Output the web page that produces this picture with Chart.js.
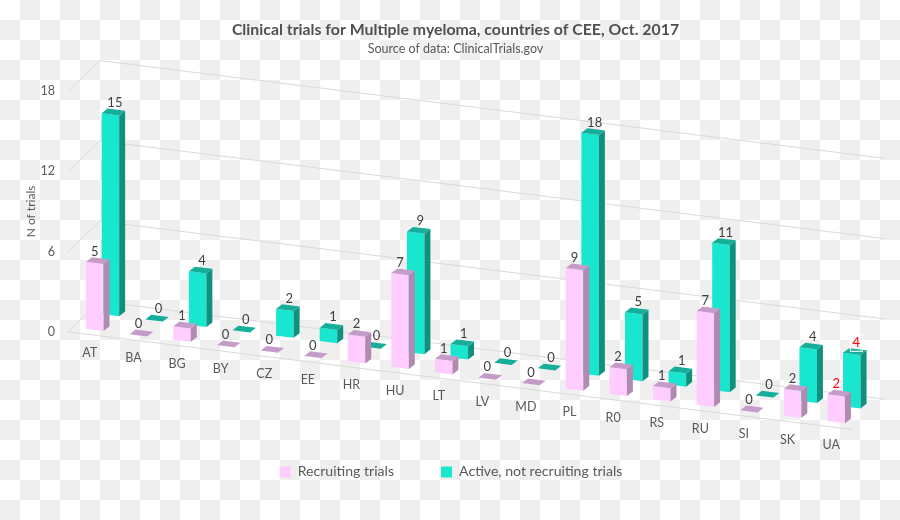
<!DOCTYPE html>
<html>
<head>
<meta charset="utf-8">
<title>Clinical trials for Multiple myeloma</title>
<script src="https://cdn.jsdelivr.net/npm/chart.js@4"></script>
<style>
  html, body { margin: 0; padding: 0; background: #fff; }
  body { width: 900px; height: 520px; overflow: hidden; }
  canvas { display: block; }
</style>
</head>
<body>
<canvas id="chart" width="900" height="520"></canvas>
<script>
const countries = ['AT', 'BA', 'BG', 'BY', 'CZ', 'EE', 'HR', 'HU', 'LT', 'LV', 'MD', 'PL', 'R0', 'RS', 'RU', 'SI', 'SK', 'UA'];
const recruiting = [5, 0, 1, 0, 0, 0, 2, 7, 1, 0, 0, 9, 2, 1, 7, 0, 2, 2];
const active = [15, 0, 4, 0, 2, 1, 0, 9, 1, 0, 0, 18, 5, 1, 11, 0, 4, 4];
const yTicks = [0, 6, 12, 18];

const FONT = 'Lato, "Open Sans", sans-serif';
const TEXT = '#595959';
const GRID = '#dadada';
const SLOPE = 0.1245;    // the floor falls to the right
const WALL = 32;         // depth of floor and side wall
const BAR_DEPTH = 6;
const TILE = 20;         // background checks

// colours of the faces, per dataset
const faces = [
  { front: '#ffccff', side: '#b08bb0', top: '#c59cc8', depth: 5, labelShift: 0 },
  { front: '#19e6cf', side: '#10917f', top: '#14ae9b', depth: 20.6, labelShift: 4.5 }
];

// scale position -> position on the slanted 3d floor
function place(chart, x, y, depth) {
  return [x + depth, y + (x - chart.chartArea.left) * SLOPE - depth * 0.95];
}

function poly(ctx, pts, fill) {
  ctx.beginPath();
  pts.forEach((p, i) => i ? ctx.lineTo(p[0], p[1]) : ctx.moveTo(p[0], p[1]));
  ctx.closePath();
  ctx.fillStyle = fill;
  ctx.fill();
}

const box3d = {
  id: 'box3d',
  afterLayout(chart) {
    // legend sits a little left of the title centre
    chart.legend.left -= 4.5;
    chart.legend.right -= 4.5;
  },
  beforeDraw(chart) {
    const ctx = chart.ctx;
    ctx.save();
    ctx.fillStyle = '#ffffff';
    ctx.fillRect(0, 0, chart.width, chart.height);
    ctx.fillStyle = '#efefef';
    for (let r = 0; r * TILE < chart.height; r++) {
      for (let c = 0; c * TILE < chart.width; c++) {
        if ((r + c) % 2) ctx.fillRect(c * TILE, r * TILE, TILE, TILE);
      }
    }
    ctx.restore();
  },
  beforeDatasetsDraw(chart) {
    const ctx = chart.ctx;
    const { left, right } = chart.chartArea;
    const yScale = chart.scales.y;
    ctx.save();
    ctx.strokeStyle = GRID;
    ctx.lineWidth = 1;
    yScale.ticks.forEach((t) => {
      const y = yScale.getPixelForValue(t.value);
      const a = place(chart, left, y, 0);
      const b = place(chart, left, y, WALL);
      const c = place(chart, right, y, WALL);
      ctx.beginPath();
      ctx.moveTo(a[0], a[1]);
      ctx.lineTo(b[0], b[1]);
      ctx.lineTo(c[0], c[1]);
      ctx.stroke();
    });
    // front edge of the floor
    const f0 = place(chart, left, yScale.getPixelForValue(0), 0);
    const f1 = place(chart, right, yScale.getPixelForValue(0), 0);
    ctx.beginPath();
    ctx.moveTo(f0[0], f0[1]);
    ctx.lineTo(f1[0], f1[1]);
    ctx.stroke();
    ctx.restore();
  },
  beforeDatasetDraw(chart, args) {
    const ctx = chart.ctx;
    const face = faces[args.index];
    args.meta.data.forEach((bar) => {
      const x0 = bar.x - bar.width / 2;
      const x1 = bar.x + bar.width / 2;
      const d = face.depth;
      const tl = place(chart, x0, bar.y, d);
      const tr = place(chart, x1, bar.y, d);
      const bl = place(chart, x0, bar.base, d);
      const br = place(chart, x1, bar.base, d);
      const back = (p) => [p[0] + BAR_DEPTH, p[1] - 4.6];
      if (bar.base - bar.y > 0.5) {
        poly(ctx, [tl, tr, br, bl], face.front);
        poly(ctx, [tr, back(tr), back(br), br], face.side);
      }
      poly(ctx, [tl, tr, back(tr), back(tl)], face.top);
    });
    return false; // the native flat bar is not wanted
  },
  afterDatasetsDraw(chart) {
    const ctx = chart.ctx;
    const last = countries.length - 1;
    ctx.save();
    ctx.textAlign = 'center';
    ctx.textBaseline = 'middle';
    ctx.font = '13px ' + FONT;
    [1, 0].forEach((ds) => {
      const face = faces[ds];
      chart.getDatasetMeta(ds).data.forEach((bar, i) => {
        const p = place(chart, bar.x, bar.y, face.depth);
        const v = chart.data.datasets[ds].data[i];
        const lx = p[0] + face.labelShift;
        const ly = p[1] - 11.5;
        ctx.fillStyle = i === last ? '#ff0000' : '#404040';
        ctx.fillText(String(v), lx, ly);
        if (i === last && ds === 1) {
          // leftover selection frame around the label
          ctx.strokeStyle = '#ffffff';
          ctx.lineWidth = 1;
          ctx.strokeRect(lx - 6, ly - 7, 12, 16);
        }
      });
    });
    // category labels sit under the slanted front edge
    const xScale = chart.scales.x;
    const base = chart.scales.y.getPixelForValue(0);
    ctx.fillStyle = TEXT;
    ctx.font = '12.5px ' + FONT;
    countries.forEach((c, i) => {
      const p = place(chart, xScale.getPixelForTick(i), base, 0);
      ctx.fillText(c, p[0], p[1] + 18);
    });
    ctx.restore();
  }
};

new Chart(document.getElementById('chart'), {
  type: 'bar',
  data: {
    labels: countries,
    datasets: [
      { label: 'Recruiting trials', data: recruiting, backgroundColor: faces[0].front, barThickness: 17.5, grouped: false, yAxisID: 'y' },
      { label: 'Active, not recruiting trials', data: active, backgroundColor: faces[1].front, barThickness: 17.5, grouped: false, yAxisID: 'y' }
    ]
  },
  plugins: [box3d],
  options: {
    responsive: false,
    animation: false,
    layout: { padding: { left: 11, right: 0, top: 18, bottom: 31 } },
    scales: {
      x: {
        grid: { display: false },
        border: { display: false },
        ticks: { display: false },
        afterFit(s) { s.height = 86; }
      },
      y: {
        min: yTicks[0],
        max: yTicks[yTicks.length - 1],
        afterBuildTicks(s) { s.ticks = yTicks.map((v) => ({ value: v })); },
        grid: { display: false },
        border: { display: false },
        ticks: { color: TEXT, font: { family: FONT, size: 12.5 }, padding: 5 },
        title: { display: true, text: 'N of trials', color: TEXT, font: { family: FONT, size: 12 }, padding: { top: 13, bottom: 0 } },
        afterFit(s) { s.width = 57; }
      },
      // empty axis, only keeps the plot clear of the right side
      rightGap: {
        axis: 'y',
        position: 'right',
        grid: { display: false },
        border: { display: false },
        ticks: { display: false },
        afterFit(s) { s.width = 47; }
      }
    },
    plugins: {
      tooltip: { enabled: false },
      title: {
        display: true,
        text: 'Clinical trials for Multiple myeloma, countries of CEE, Oct. 2017',
        color: '#505050',
        font: { family: FONT, size: 15.85, weight: 'bold' },
        padding: { top: 2, bottom: 2 }
      },
      subtitle: {
        display: true,
        text: 'Source of data: ClinicalTrials.gov',
        color: TEXT,
        font: { family: FONT, size: 12.5 },
        padding: { top: 0, bottom: 35 }
      },
      legend: {
        position: 'bottom',
        labels: {
          color: TEXT,
          font: { family: FONT, size: 14.1 },
          boxWidth: 11,
          boxHeight: 11,
          padding: 47
        }
      }
    }
  }
});
</script>
</body>
</html>
